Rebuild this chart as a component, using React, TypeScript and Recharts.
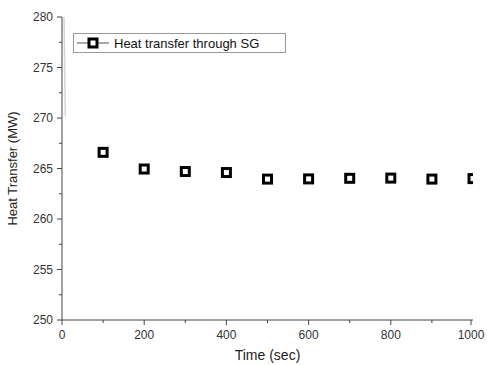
import { ComposedChart, Scatter, Line, XAxis, YAxis } from "recharts";

const times = [100, 200, 300, 400, 500, 600, 700, 800, 900, 1000];
const heatTransfer = [266.6, 264.95, 264.7, 264.6, 263.95, 263.97, 264.03, 264.05, 263.95, 264.0];

// faint initial transient close to t = 0
const earlyTimes = [5, 8];
const earlyValues = [280, 270.2];

const xTicks = [0, 100, 200, 300, 400, 500, 600, 700, 800, 900, 1000];
const yTicks = [250, 252.5, 255, 257.5, 260, 262.5, 265, 267.5, 270, 272.5, 275, 277.5, 280];

const heatData = times.map((t, i) => ({ t, q: heatTransfer[i] }));
const earlyData = earlyTimes.map((t, i) => ({ t, q: earlyValues[i] }));

const font = "Arial, 'Liberation Sans', sans-serif";

const SquareMarker = (props: any) => {
  const { cx, cy } = props;
  if (cx == null || cy == null) return null;
  return <rect x={cx - 4} y={cy - 4} width={8} height={8} fill="#fff" stroke="#000" strokeWidth={3} />;
};

const XTick = (props: any) => {
  const { x, y, payload } = props;
  const major = payload.value % 200 === 0;
  return (
    <g>
      <line x1={x} x2={x} y1={y - 8} y2={y - (major ? 3 : 5)} stroke="#444" />
      {major && (
        <text x={x} y={y + 11} textAnchor="middle" fontSize={12} fill="#333" fontFamily={font}>
          {payload.value}
        </text>
      )}
    </g>
  );
};

const YTick = (props: any) => {
  const { x, y, payload } = props;
  const major = payload.value % 5 === 0;
  return (
    <g>
      <line x1={x + 8 - (major ? 5 : 3)} x2={x + 8} y1={y} y2={y} stroke="#444" />
      {major && (
        <text x={x - 1} y={y + 4} textAnchor="end" fontSize={12} fill="#333" fontFamily={font}>
          {payload.value}
        </text>
      )}
    </g>
  );
};

export default function App() {
  return (
    <div style={{ position: "absolute", left: 0, top: 0, width: 487, height: 365, background: "#fff" }}>
      <ComposedChart width={487} height={365} margin={{ top: 17, right: 14, bottom: 0, left: 12 }}>
        <XAxis
          dataKey="t"
          type="number"
          domain={[0, 1000]}
          ticks={xTicks}
          allowDataOverflow
          stroke="#444"
          tickLine={false}
          tick={<XTick />}
          height={45}
          label={{ value: "Time (sec)", position: "insideBottom", offset: 5, fontSize: 14, fill: "#222", fontFamily: font }}
        />
        <YAxis
          dataKey="q"
          type="number"
          domain={[250, 280]}
          ticks={yTicks}
          allowDataOverflow
          stroke="#444"
          tickLine={false}
          tick={<YTick />}
          width={50}
          label={{ value: "Heat Transfer (MW)", angle: -90, position: "insideLeft", offset: 0, fontSize: 13, fill: "#222", fontFamily: font, style: { textAnchor: "middle" } }}
        />
        <Line data={earlyData} dataKey="q" stroke="#d6d6d6" strokeWidth={1.5} dot={false} isAnimationActive={false} />
        <Scatter data={heatData} dataKey="q" shape={<SquareMarker />} isAnimationActive={false} />
      </ComposedChart>
      {/* the reference clips marks at the right edge of the plot */}
      <div style={{ position: "absolute", zIndex: 2, left: 473, top: 17, width: 14, height: 298, background: "#fff" }} />
      <div
        style={{
          position: "absolute",
          zIndex: 3,
          left: 73,
          top: 33,
          width: 213,
          height: 20,
          border: "1px solid #999",
          boxSizing: "border-box",
          display: "flex",
          alignItems: "center",
          fontFamily: font,
          fontSize: 13,
          color: "#111",
          background: "#fff",
        }}
      >
        <svg width={34} height={18} style={{ marginLeft: 2 }}>
          <line x1={1} x2={33} y1={9} y2={9} stroke="#555" strokeWidth={1} />
          <rect x={13} y={5} width={8} height={8} fill="#fff" stroke="#000" strokeWidth={3} />
        </svg>
        <span style={{ marginLeft: 4 }}>Heat transfer through SG</span>
      </div>
    </div>
  );
}
